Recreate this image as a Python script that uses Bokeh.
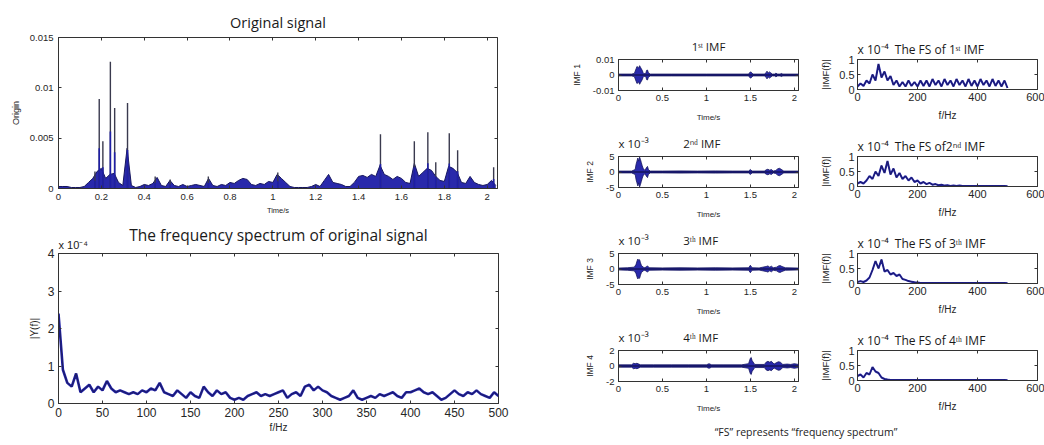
from bokeh.plotting import figure
from bokeh.layouts import row, column
from bokeh.models import FixedTicker, Spacer, Div, Range1d, Title, LinearAxis
from bokeh.embed import file_html
from bokeh.resources import INLINE

# ---------------- data ----------------
# Original signal: blue body envelope sampled every 0.02 s, plus sharp spikes
orig_t = [0.00, 0.02, 0.04, 0.06, 0.08, 0.10, 0.12, 0.14, 0.16, 0.18,
          0.20, 0.22, 0.24, 0.26, 0.28, 0.30, 0.32, 0.34, 0.36, 0.38,
          0.40, 0.42, 0.44, 0.46, 0.48, 0.50, 0.52, 0.54, 0.56, 0.58,
          0.60, 0.62, 0.64, 0.66, 0.68, 0.70, 0.72, 0.74, 0.76, 0.78,
          0.80, 0.82, 0.84, 0.86, 0.88, 0.90, 0.92, 0.94, 0.96, 0.98,
          1.00, 1.02, 1.04, 1.06, 1.08, 1.10, 1.12, 1.14, 1.16, 1.18,
          1.20, 1.22, 1.24, 1.26, 1.28, 1.30, 1.32, 1.34, 1.36, 1.38,
          1.40, 1.42, 1.44, 1.46, 1.48, 1.50, 1.52, 1.54, 1.56, 1.58,
          1.60, 1.62, 1.64, 1.66, 1.68, 1.70, 1.72, 1.74, 1.76, 1.78,
          1.80, 1.82, 1.84, 1.86, 1.88, 1.90, 1.92, 1.94, 1.96, 1.98,
          2.00, 2.02, 2.04]
orig_body = [0.0002, 0.0002, 0.0002, 0.0001, 0.0001, 0.0001, 0.0002, 0.0006, 0.0010, 0.0017,
             0.0020, 0.0010, 0.0014, 0.0015, 0.0006, 0.0003, 0.0040, 0.0003, 0.0001, 0.0002,
             0.0004, 0.0003, 0.0005, 0.0011, 0.0003, 0.0002, 0.0008, 0.0003, 0.0002, 0.0004,
             0.0002, 0.0003, 0.0004, 0.0003, 0.0002, 0.0010, 0.0003, 0.0002, 0.0004, 0.0003,
             0.0006, 0.0005, 0.0008, 0.0010, 0.0009, 0.0004, 0.0003, 0.0005, 0.0004, 0.0007,
             0.0006, 0.0014, 0.0010, 0.0006, 0.0002, 0.0001, 0.0001, 0.0001, 0.0001, 0.0002,
             0.0004, 0.0002, 0.0008, 0.0014, 0.0006, 0.0005, 0.0004, 0.0002, 0.0002, 0.0006,
             0.0012, 0.0013, 0.0011, 0.0014, 0.0012, 0.0023, 0.0014, 0.0012, 0.0009, 0.0012,
             0.0010, 0.0006, 0.0005, 0.0025, 0.0012, 0.0016, 0.0020, 0.0018, 0.0012, 0.0008,
             0.0007, 0.0022, 0.0020, 0.0016, 0.0006, 0.0005, 0.0012, 0.0006, 0.0004, 0.0003,
             0.0004, 0.0008, 0.0003]
spike_t = [0.170, 0.190, 0.207, 0.242, 0.262, 0.322, 0.451, 0.521, 0.699, 1.023,
           1.502, 1.660, 1.723, 1.760, 1.823, 1.862, 2.030]
spike_v = [0.0017, 0.0089, 0.0047, 0.0126, 0.0080, 0.0085, 0.0012, 0.0009, 0.0012, 0.0016,
           0.0054, 0.0047, 0.0056, 0.0026, 0.0055, 0.0038, 0.0021]

# Spectrum of original signal (units of 1e-4), every 5 Hz
spec_f = [0, 5, 10, 15, 20, 25, 30, 35, 40, 45,
          50, 55, 60, 65, 70, 75, 80, 85, 90, 95,
          100, 105, 110, 115, 120, 125, 130, 135, 140, 145,
          150, 155, 160, 165, 170, 175, 180, 185, 190, 195,
          200, 205, 210, 215, 220, 225, 230, 235, 240, 245,
          250, 255, 260, 265, 270, 275, 280, 285, 290, 295,
          300, 305, 310, 315, 320, 325, 330, 335, 340, 345,
          350, 355, 360, 365, 370, 375, 380, 385, 390, 395,
          400, 405, 410, 415, 420, 425, 430, 435, 440, 445,
          450, 455, 460, 465, 470, 475, 480, 485, 490, 495,
          500]
spec_orig = [2.4, 0.9, 0.55, 0.45, 0.8, 0.3, 0.4, 0.5, 0.3, 0.45,
             0.35, 0.6, 0.4, 0.3, 0.35, 0.3, 0.25, 0.3, 0.25, 0.35,
             0.3, 0.4, 0.35, 0.55, 0.3, 0.25, 0.2, 0.35, 0.25, 0.15,
             0.3, 0.2, 0.15, 0.45, 0.3, 0.2, 0.35, 0.25, 0.3, 0.15,
             0.1, 0.15, 0.1, 0.2, 0.25, 0.3, 0.2, 0.25, 0.2, 0.25,
             0.3, 0.35, 0.15, 0.25, 0.3, 0.2, 0.45, 0.5, 0.35, 0.45,
             0.35, 0.3, 0.2, 0.15, 0.1, 0.15, 0.2, 0.35, 0.15, 0.1,
             0.15, 0.2, 0.15, 0.25, 0.2, 0.25, 0.3, 0.2, 0.15, 0.3,
             0.3, 0.35, 0.4, 0.3, 0.25, 0.3, 0.2, 0.1, 0.15, 0.25,
             0.35, 0.25, 0.2, 0.3, 0.25, 0.35, 0.25, 0.2, 0.15, 0.3,
             0.2]

# IMF amplitude envelopes (IMF1 in raw units, IMF2-4 in units of 1e-3)
imf1_t = [0, 0.15, 0.18, 0.19, 0.20, 0.21, 0.22, 0.23, 0.24, 0.25, 0.26, 0.27, 0.28, 0.29,
          0.31, 0.32, 0.33, 0.34, 0.36, 0.60, 1.00, 1.48, 1.50, 1.51, 1.53, 1.66, 1.68,
          1.69, 1.70, 1.72, 1.73, 1.75, 1.78, 1.79, 1.81, 1.84, 1.85, 1.87, 2.048]
imf1_amp = [0.0006, 0.0006, 0.001, 0.0025, 0.004, 0.0055, 0.005, 0.0045, 0.006, 0.005, 0.004,
            0.003, 0.0015, 0.0008, 0.001, 0.003, 0.0032, 0.0015, 0.0006, 0.0006, 0.0006, 0.0006,
            0.002, 0.0018, 0.0006, 0.0006, 0.0015, 0.0025, 0.0012, 0.002, 0.0015, 0.0006, 0.0006,
            0.0012, 0.0006, 0.0006, 0.0010, 0.0006, 0.0006]
imf2_t = [0, 0.15, 0.19, 0.20, 0.21, 0.22, 0.23, 0.24, 0.25, 0.26, 0.27, 0.28, 0.30, 0.32,
          0.33, 0.34, 0.36, 0.5, 0.7, 0.9, 1.1, 1.3, 1.48, 1.50, 1.52, 1.66, 1.68, 1.70,
          1.72, 1.74, 1.76, 1.79, 1.81, 1.83, 1.85, 1.88, 2.048]
imf2_amp = [0.3, 0.3, 0.8, 2.5, 3.5, 4.5, 3.5, 4.8, 4.0, 3.0, 2.0, 1.2, 0.5, 1.5, 1.8, 0.8,
            0.3, 0.3, 0.35, 0.3, 0.35, 0.3, 0.3, 0.8, 0.3, 0.3, 0.7, 0.9, 0.6, 0.8, 0.3, 0.5,
            1.0, 1.2, 0.9, 0.3, 0.3]
imf3_t = [0, 0.1, 0.18, 0.20, 0.21, 0.22, 0.23, 0.24, 0.25, 0.26, 0.28, 0.30, 0.32, 0.33,
          0.35, 0.5, 0.7, 0.9, 1.1, 1.3, 1.48, 1.50, 1.52, 1.60, 1.68, 1.70, 1.72, 1.74,
          1.76, 1.80, 1.82, 1.84, 1.86, 1.90, 2.048]
imf3_amp = [0.3, 0.4, 0.6, 1.5, 2.5, 3.2, 2.8, 3.0, 2.0, 1.2, 0.6, 0.4, 0.8, 1.0, 0.4, 0.35,
            0.4, 0.35, 0.4, 0.35, 0.4, 1.2, 0.4, 0.35, 0.8, 1.0, 0.6, 0.9, 0.4, 0.6, 1.0, 1.1,
            0.8, 0.4, 0.3]
imf4_t = [0, 0.15, 0.17, 0.19, 0.21, 0.25, 0.4, 0.6, 0.8, 1.00, 1.03, 1.06, 1.2, 1.4, 1.48,
          1.50, 1.51, 1.52, 1.55, 1.66, 1.68, 1.70, 1.72, 1.74, 1.77, 1.80, 1.82, 1.84, 1.87,
          1.92, 1.96, 2.00, 2.048]
imf4_amp = [0.15, 0.15, 0.35, 0.3, 0.35, 0.15, 0.15, 0.15, 0.15, 0.15, 0.3, 0.15, 0.15, 0.15,
            0.3, 1.0, 1.1, 0.7, 0.2, 0.2, 0.5, 0.6, 0.5, 0.6, 0.25, 0.45, 0.55, 0.5, 0.2,
            0.25, 0.2, 0.3, 0.2]

# Spectra of IMFs (units of 1e-4), every 10 Hz
fs_f = [0, 10, 20, 30, 40, 50, 60, 70, 80, 90,
        100, 110, 120, 130, 140, 150, 160, 170, 180, 190,
        200, 210, 220, 230, 240, 250, 260, 270, 280, 290,
        300, 310, 320, 330, 340, 350, 360, 370, 380, 390,
        400, 410, 420, 430, 440, 450, 460, 470, 480, 490,
        500]
fs1 = [0.1, 0.2, 0.12, 0.3, 0.2, 0.5, 0.3, 0.85, 0.4, 0.6,
       0.3, 0.45, 0.15, 0.3, 0.1, 0.25, 0.1, 0.3, 0.12, 0.25,
       0.1, 0.3, 0.12, 0.3, 0.1, 0.35, 0.15, 0.3, 0.1, 0.35,
       0.15, 0.3, 0.1, 0.35, 0.15, 0.3, 0.1, 0.35, 0.12, 0.3,
       0.1, 0.35, 0.15, 0.3, 0.1, 0.35, 0.12, 0.3, 0.1, 0.3,
       0.05]
fs2 = [0.1, 0.15, 0.1, 0.2, 0.35, 0.25, 0.5, 0.35, 0.7, 0.45,
       0.85, 0.4, 0.6, 0.3, 0.45, 0.25, 0.35, 0.2, 0.3, 0.15,
       0.2, 0.1, 0.15, 0.08, 0.12, 0.06, 0.08, 0.04, 0.06, 0.03,
       0.04, 0.02, 0.03, 0.02, 0.03, 0.02, 0.02, 0.02, 0.02, 0.02,
       0.02, 0.02, 0.02, 0.02, 0.02, 0.02, 0.02, 0.02, 0.02, 0.02,
       0.01]
fs3 = [0.05, 0.08, 0.05, 0.1, 0.2, 0.45, 0.75, 0.5, 0.8, 0.4,
       0.45, 0.3, 0.35, 0.25, 0.3, 0.15, 0.12, 0.08, 0.06, 0.04,
       0.03, 0.02, 0.02, 0.02, 0.02, 0.02, 0.02, 0.02, 0.02, 0.02,
       0.02, 0.02, 0.02, 0.02, 0.02, 0.02, 0.02, 0.02, 0.02, 0.02,
       0.02, 0.02, 0.02, 0.02, 0.02, 0.02, 0.02, 0.02, 0.02, 0.02,
       0.01]
fs4 = [0.15, 0.2, 0.1, 0.25, 0.2, 0.45, 0.3, 0.25, 0.1, 0.05,
       0.03, 0.02, 0.02, 0.02, 0.02, 0.02, 0.02, 0.02, 0.02, 0.02,
       0.02, 0.02, 0.02, 0.02, 0.02, 0.02, 0.02, 0.02, 0.02, 0.02,
       0.02, 0.02, 0.02, 0.02, 0.02, 0.02, 0.02, 0.02, 0.02, 0.02,
       0.02, 0.02, 0.02, 0.02, 0.02, 0.02, 0.02, 0.02, 0.02, 0.02,
       0.01]

# Tick labels
t_ticks_a = [0, 0.2, 0.4, 0.6, 0.8, 1, 1.2, 1.4, 1.6, 1.8, 2]
t_labels_a = ["0", "0.2", "0.4", "0.6", "0.8", "1", "1.2", "1.4", "1.6", "1.8", "2"]
y_ticks_a = [0, 0.005, 0.01, 0.015]
y_labels_a = ["0", "0.005", "0.01", "0.015"]
f_ticks_b = [0, 50, 100, 150, 200, 250, 300, 350, 400, 450, 500]
f_labels_b = ["0", "50", "100", "150", "200", "250", "300", "350", "400", "450", "500"]
y_ticks_b = [0, 1, 2, 3, 4]
y_labels_b = ["0", "1", "2", "3", "4"]
t_ticks_imf = [0, 0.5, 1, 1.5, 2]
t_labels_imf = ["0", "0.5", "1", "1.5", "2"]
f_ticks_fs = [0, 200, 400, 600]
f_labels_fs = ["0", "200", "400", "600"]
y_ticks_fs = [0, 0.5, 1]
y_labels_fs = ["0", "0.5", "1"]

EM = "\u2003"
imf_titles = ["1ˢᵗ IMF",
              "x 10⁻³" + EM * 3 + "2ⁿᵈ IMF",
              "x 10⁻³" + EM * 3 + "3ᵗʰ IMF",
              "x 10⁻³" + EM * 3 + "4ᵗʰ IMF"]
fs_titles = ["x 10⁻⁴\u2002The FS of 1ˢᵗ IMF",
             "x 10⁻⁴\u2002The FS of2ⁿᵈ IMF",
             "x 10⁻⁴\u2002The FS of 3ᵗʰ IMF",
             "x 10⁻⁴\u2002The FS of 4ᵗʰ IMF"]
imf_ylabels = ["IMF 1", "IMF 2", "IMF 3", "IMF 4"]

# ---------------- styling helpers ----------------
TITLE_FONT = "Open Sans"
TICK_FONT = "Liberation Sans"
BLUE = "#1e1ea6"
NAVY = "#15155e"
TXT = "#262626"
AX = "#333333"


def make_fig(fw, fh, bl, br, bt, bb, xr, yr):
    p = figure(frame_width=fw, frame_height=fh,
               x_range=Range1d(*xr), y_range=Range1d(*yr),
               output_backend="svg", toolbar_location=None,
               min_border_left=bl, min_border_right=br,
               min_border_top=bt, min_border_bottom=bb)
    p.grid.visible = False
    p.outline_line_color = AX
    p.outline_line_width = 1
    p.background_fill_color = "white"
    p.border_fill_color = "white"
    return p


def add_title(p, text, size, standoff, align="center", font=TITLE_FONT):
    p.add_layout(Title(text=text, text_font=font, text_font_style="normal",
                       text_font_size=size, text_color="#1a1a1a", align=align,
                       standoff=standoff), "above")


def mirror_ticks(p, xticks, yticks):
    # MATLAB-style inward ticks on the top and right edges of the box
    top = LinearAxis(ticker=FixedTicker(ticks=xticks),
                     major_label_overrides={v: "" for v in xticks})
    right = LinearAxis(ticker=FixedTicker(ticks=yticks),
                       major_label_overrides={v: "" for v in yticks})
    for ax in (top, right):
        ax.major_tick_in = 3
        ax.major_tick_out = 0
        ax.minor_tick_in = 0
        ax.minor_tick_out = 0
        ax.major_label_standoff = 0
        ax.major_label_text_font_size = "1px"
        ax.axis_line_color = None
        ax.major_tick_line_color = AX
    p.add_layout(right, "right")
    p.above.insert(0, top)


def style_axes(p, xticks, xlabels, yticks, ylabels, xlab, ylab,
               tick_size, xlab_size, ylab_size, label_standoff, x_lab_std, y_lab_std):
    for ax, ticks, labels in ((p.xaxis[0], xticks, xlabels), (p.yaxis[0], yticks, ylabels)):
        ax.ticker = FixedTicker(ticks=ticks)
        ax.major_label_overrides = dict(zip(ticks, labels))
        ax.major_tick_in = 3
        ax.major_tick_out = 0
        ax.minor_tick_in = 0
        ax.minor_tick_out = 0
        ax.axis_line_color = AX
        ax.major_tick_line_color = AX
        ax.major_label_text_font = TICK_FONT
        ax.major_label_text_font_size = tick_size
        ax.major_label_text_color = TXT
        ax.major_label_standoff = label_standoff
        ax.axis_label_text_font = TICK_FONT
        ax.axis_label_text_font_style = "normal"
        ax.axis_label_text_color = TXT
    p.xaxis[0].axis_label = xlab
    p.xaxis[0].axis_label_text_font_size = xlab_size
    p.xaxis[0].axis_label_standoff = x_lab_std
    p.yaxis[0].axis_label = ylab
    p.yaxis[0].axis_label_text_font_size = ylab_size
    p.yaxis[0].axis_label_standoff = y_lab_std


# ---------------- left: original signal ----------------
pa = make_fig(439, 151, 58, 18, 37, 30, (0, 2.048), (0, 0.015))
add_title(pa, "Original signal", "14.5px", 11)
pa.varea(x=orig_t, y1=0, y2=orig_body, fill_color=BLUE, fill_alpha=0.95)
pa.line(orig_t, orig_body, line_color=NAVY, line_width=1)
pa.segment(x0=spike_t, y0=0, x1=spike_t, y1=spike_v, line_color="#3a3a4e", line_width=1.4)
pa.segment(x0=spike_t, y0=0, x1=spike_t, y1=[v * 0.45 for v in spike_v],
           line_color=BLUE, line_width=1.6)
style_axes(pa, t_ticks_a, t_labels_a, y_ticks_a, y_labels_a, "Time/s", "Origin",
           "9.5px", "7.5px", "9px", 5, 3, 6)
mirror_ticks(pa, t_ticks_a, y_ticks_a)

pb = make_fig(440, 150, 57, 18, 35, 42, (0, 500), (0, 4))
add_title(pb, "x 10⁻⁴", "11px", 5, align="left", font=TICK_FONT)
add_title(pb, "The frequency spectrum of original signal", "15.5px", -22)
pb.line(spec_f, spec_orig, line_color=BLUE, line_width=2.6)
pb.line(spec_f, spec_orig, line_color="#202040", line_width=0.7)
style_axes(pb, f_ticks_b, f_labels_b, y_ticks_b, y_labels_b, "f/Hz", "|Y(f)|",
           "12px", "10px", "10px", 4, 2, 5)
mirror_ticks(pb, f_ticks_b, y_ticks_b)

# ---------------- right: IMFs and their spectra ----------------
imf_t = [imf1_t, imf2_t, imf3_t, imf4_t]
imf_amp = [imf1_amp, imf2_amp, imf3_amp, imf4_amp]
imf_yr = [(-0.01, 0.01), (-5, 5), (-5, 5), (-2, 2)]
imf_yticks = [[-0.01, 0, 0.01], [-5, 0, 5], [-5, 0, 5], [-2, 0, 2]]
imf_ylabs = [["-0.01", "0", "0.01"], ["-5", "0", "5"], ["-5", "0", "5"], ["-2", "0", "2"]]
fs_vals = [fs1, fs2, fs3, fs4]

rows = []
for i in range(4):
    pi = make_fig(180, 31, 50, 10, 32, 34, (0, 2.048), imf_yr[i])
    add_title(pi, imf_titles[i], "11.5px", 11, align="center" if i == 0 else "left")
    t = imf_t[i]
    a = imf_amp[i]
    neg = [-v for v in a]
    pi.varea(x=t, y1=neg, y2=a, fill_color=BLUE, fill_alpha=0.95)
    pi.line(t, a, line_color=NAVY, line_width=0.8)
    pi.line(t, neg, line_color=NAVY, line_width=0.8)
    pi.line(t, [0 * v for v in a], line_color=NAVY, line_width=1.3)
    style_axes(pi, t_ticks_imf, t_labels_imf, imf_yticks[i], imf_ylabs[i],
               "Time/s", imf_ylabels[i], "9.5px", "8px", "8.5px", 4, 9, 8)
    mirror_ticks(pi, t_ticks_imf, imf_yticks[i])

    pf = make_fig(180, 30, 49, 7, 33, 34, (0, 600), (0, 1))
    add_title(pf, fs_titles[i], "12px", 4, align="left")
    pf.line(fs_f, fs_vals[i], line_color=BLUE, line_width=2.0)
    pf.line(fs_f, fs_vals[i], line_color="#202040", line_width=0.6)
    style_axes(pf, f_ticks_fs, f_labels_fs, y_ticks_fs, y_labels_fs,
               "f/Hz", "|IMF(f)|", "11px", "10px", "9.5px", 3, 6, 5)
    mirror_ticks(pf, f_ticks_fs, y_ticks_fs)
    rows.append(row(pi, pf))

caption = Div(text="“FS” represents “frequency spectrum”", width=476, height=31,
              margin=(0, 0, 0, 0),
              styles={"font-family": "Open Sans", "font-size": "10.5px", "color": "#222",
                      "text-align": "center", "line-height": "36px", "white-space": "nowrap"})

left = column(pa, pb)
right = column(Spacer(width=476, height=26), *rows, caption)
layout = row(left, Spacer(width=53, height=10), right)

open("out.html", "w").write(file_html(layout, INLINE))
